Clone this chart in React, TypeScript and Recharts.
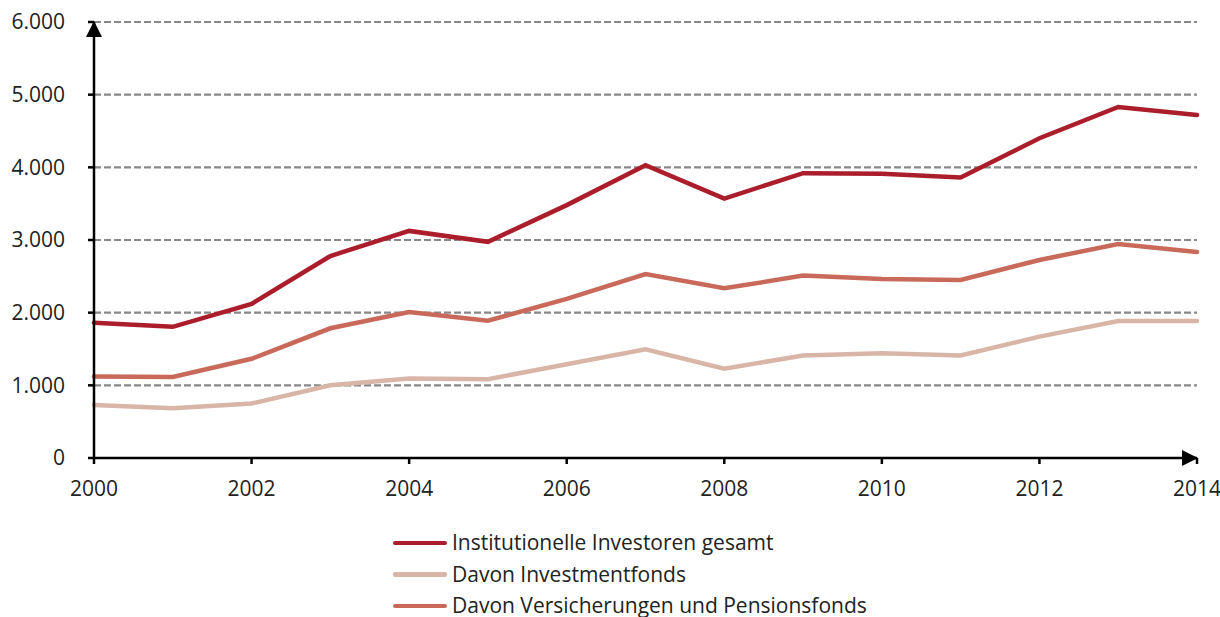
import React from "react";
import { LineChart, Line, XAxis, YAxis, CartesianGrid } from "recharts";

const years = [2000, 2001, 2002, 2003, 2004, 2005, 2006, 2007, 2008, 2009, 2010, 2011, 2012, 2013, 2014];
const gesamt = [1860, 1805, 2120, 2780, 3125, 2975, 3480, 4030, 3570, 3920, 3910, 3860, 4400, 4830, 4720];
const investmentfonds = [730, 685, 750, 1000, 1095, 1085, 1290, 1495, 1230, 1410, 1440, 1410, 1670, 1885, 1885];
const versicherungen = [1120, 1115, 1365, 1785, 2010, 1890, 2190, 2530, 2335, 2510, 2465, 2450, 2725, 2945, 2835];

const xTicks = [2000, 2002, 2004, 2006, 2008, 2010, 2012, 2014];
const yTicks = [0, 1000, 2000, 3000, 4000, 5000, 6000];

const series = [
  { key: "gesamt", name: "Institutionelle Investoren gesamt", color: "#AB1D2A" },
  { key: "investment", name: "Davon Investmentfonds", color: "#D8B5A7" },
  { key: "versicherung", name: "Davon Versicherungen und Pensionsfonds", color: "#C8695A" },
];

const data = years.map((year, i) => ({
  year,
  gesamt: gesamt[i],
  investment: investmentfonds[i],
  versicherung: versicherungen[i],
}));

// German thousands separator
const fmt = (v: number) => (v === 0 ? "0" : `${Math.floor(v / 1000)}.${String(v % 1000).padStart(3, "0")}`);

const tickStyle = { fill: "#222", fontSize: 21, fontFamily: "Open Sans" };

export default function App() {
  return (
    <div style={{ position: "absolute", left: 0, top: 0, width: 1220, height: 617, background: "#fff", overflow: "hidden" }}>
      <LineChart width={1220} height={617} data={data} margin={{ top: 22, right: 23, left: 34, bottom: 129 }}>
        <defs>
          <marker
            id="arrow"
            viewBox="0 0 16 16"
            refX="15"
            refY="8"
            markerWidth="16"
            markerHeight="16"
            markerUnits="userSpaceOnUse"
            orient="auto-start-reverse"
          >
            <path d="M0,0 L16,8 L0,16 z" fill="#000" />
          </marker>
        </defs>
        <CartesianGrid vertical={false} stroke="#888" strokeWidth={2.2} strokeDasharray="7 3" />
        <XAxis
          dataKey="year"
          type="number"
          domain={[2000, 2014]}
          ticks={xTicks}
          tick={tickStyle}
          tickSize={6}
          tickMargin={17}
          height={30}
          axisLine={{ stroke: "#000", strokeWidth: 2.5, markerEnd: "url(#arrow)" }}
          tickLine={{ stroke: "#000", strokeWidth: 2.5 }}
        />
        <YAxis
          domain={[0, 6000]}
          ticks={yTicks}
          tickFormatter={fmt}
          tick={tickStyle}
          tickSize={6}
          tickMargin={23}
          width={60}
          axisLine={{ stroke: "#000", strokeWidth: 2.5, markerStart: "url(#arrow)" }}
          tickLine={{ stroke: "#000", strokeWidth: 2.5 }}
        />
        {series.map((s) => (
          <Line
            key={s.key}
            type="linear"
            dataKey={s.key}
            name={s.name}
            stroke={s.color}
            strokeWidth={4.5}
            strokeLinecap="round"
            dot={false}
            activeDot={false}
            isAnimationActive={false}
          />
        ))}
      </LineChart>
      <div style={{ position: "absolute", left: 393, top: 527, fontFamily: "Open Sans", fontSize: 21, lineHeight: 1, color: "#222" }}>
        {series.map((s) => (
          <div key={s.key} style={{ display: "flex", alignItems: "center", height: 31.5 }}>
            <span style={{ display: "inline-block", width: 54, height: 4.5, borderRadius: 2, background: s.color, marginRight: 5 }} />
            <span>{s.name}</span>
          </div>
        ))}
      </div>
    </div>
  );
}
